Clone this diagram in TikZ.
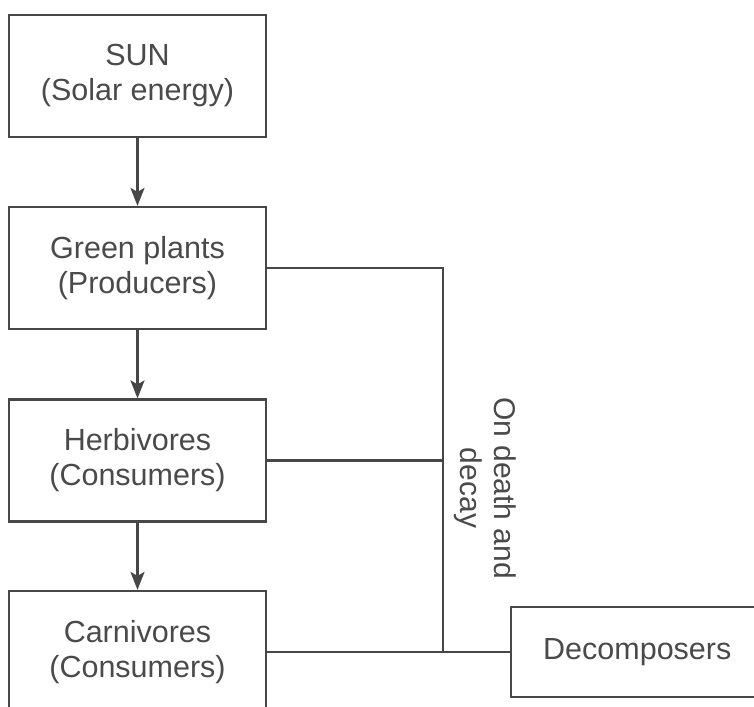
\documentclass[tikz,border=0pt]{standalone}
\usepackage{fontspec}
\setmainfont{Liberation Sans}
\usetikzlibrary{arrows.meta}
\definecolor{inkline}{HTML}{474747}
\definecolor{inktext}{HTML}{4A4A4A}
\begin{document}
\begin{tikzpicture}[x=1pt,y=-1pt,
  stagebox/.style={draw=inkline, line width=2.2pt, minimum width=257pt, minimum height=122pt,
    align=center, font=\fontsize{30.5}{35}\selectfont, text=inktext, inner sep=0pt},
  flowarrow/.style={draw=inkline, line width=2.2pt, -{Stealth[length=18pt,width=14pt,inset=4pt]}},
  link/.style={draw=inkline, line width=2.2pt}]
\clip (0,0) rectangle (754,706);
\fill[white] (0,0) rectangle (754,706);
\node[stagebox] (sun) at (137.5,76) {SUN\\(Solar energy)};
\node[stagebox] (plants) at (137.5,268) {Green plants\\(Producers)};
\node[stagebox] (herb) at (137.5,460.5) {Herbivores\\(Consumers)};
\node[stagebox] (carn) at (137.5,652) {Carnivores\\(Consumers)};
\node[stagebox, minimum width=270pt, minimum height=90pt] (decomp) at (646,652) {};
\node[font=\fontsize{30.5}{35}\selectfont, text=inktext, anchor=west, inner sep=0pt] (decomptext) at (543,652) {Decomposers};
\draw[flowarrow] (sun.south) -- (plants.north);
\draw[flowarrow] (plants.south) -- (herb.north);
\draw[flowarrow] (herb.south) -- (carn.north);
\coordinate (jtop) at (443,268);
\coordinate (jmid) at (443,460.5);
\coordinate (jbot) at (443,652);
\draw[link] (plants.east) -- (jtop) -- (jbot);
\draw[link] (herb.east) -- (jmid);
\draw[link] (carn.east) -- (decomp.west);
\node[rotate=-90, align=center, font=\fontsize{30}{34}\selectfont, text=inktext, inner sep=0pt] (label) at (485,488) {On death and\\decay};
\end{tikzpicture}
\end{document}
